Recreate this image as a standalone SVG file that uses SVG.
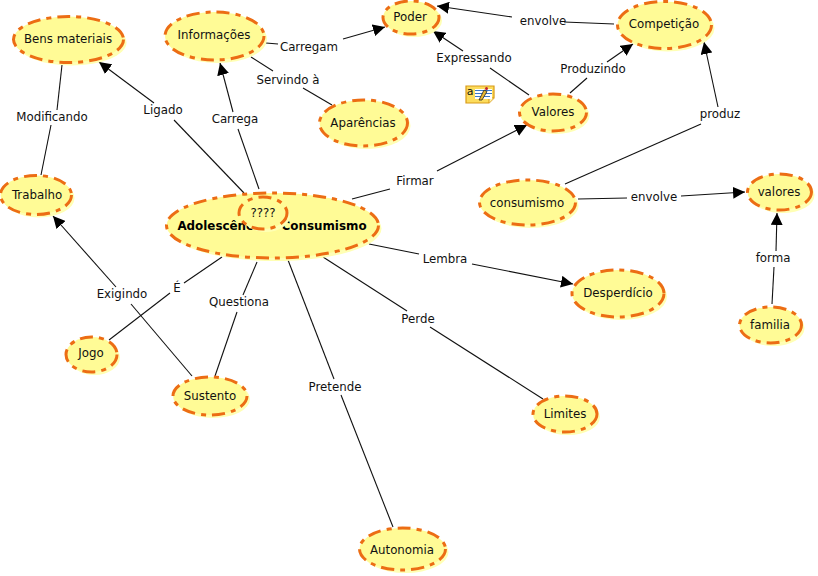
<svg xmlns="http://www.w3.org/2000/svg" width="818" height="576" viewBox="0 0 818 576">
<defs>
<marker id="arrow" viewBox="0 0 10 10" refX="10" refY="5" markerWidth="12" markerHeight="12" markerUnits="userSpaceOnUse" orient="auto"><path d="M0 0L10 5L0 10Z" fill="#000"/></marker>
</defs>
<style>
text{font-family:"DejaVu Sans","Liberation Sans",sans-serif;font-size:11.8px;fill:#111;text-anchor:middle}
.b{font-weight:bold;font-size:11.9px;fill:#000}
.s{fill:#ffffb4}
.n{fill:#fffb96;stroke:#ec6d14;stroke-width:3;stroke-dasharray:13 6 5 6}
#connectors line{stroke:#111;stroke-width:1.1}
#connectors line.a{marker-end:url(#arrow)}
</style>
<rect width="818" height="576" fill="#fff"/>
<g id="connectors">
<line x1="62" y1="65" x2="57" y2="110"/><line x1="51" y1="125" x2="41" y2="175"/>
<line class="a" x1="154" y1="103" x2="99" y2="62"/><line x1="174" y1="120" x2="244" y2="193"/>
<line class="a" x1="233" y1="112" x2="220" y2="63"/><line x1="238" y1="129" x2="259" y2="189"/>
<line x1="266" y1="43" x2="278" y2="44"/><line class="a" x1="343" y1="39" x2="385" y2="27"/>
<line x1="251" y1="57" x2="273" y2="71"/><line x1="303" y1="88" x2="332" y2="105"/>
<line class="a" x1="463" y1="51" x2="433" y2="31"/><line x1="490" y1="68" x2="529" y2="95"/>
<line class="a" x1="512" y1="17" x2="437" y2="6"/><line x1="564" y1="22" x2="614" y2="24"/>
<line x1="570" y1="93" x2="587" y2="78"/><line class="a" x1="607" y1="62" x2="633" y2="44"/>
<line class="a" x1="718" y1="107" x2="704" y2="42"/><line x1="701" y1="124" x2="565" y2="184"/>
<line x1="352" y1="199" x2="390" y2="189"/><line class="a" x1="437" y1="171" x2="527" y2="125"/>
<line x1="578" y1="199" x2="627" y2="198"/><line class="a" x1="681" y1="196" x2="745" y2="192"/>
<line x1="772" y1="304" x2="774" y2="267"/><line class="a" x1="776" y1="251" x2="777" y2="213"/>
<line x1="369" y1="244" x2="419" y2="254"/><line class="a" x1="472" y1="264" x2="573" y2="284"/>
<line x1="323" y1="257" x2="407" y2="311"/><line x1="430" y1="327" x2="543" y2="399"/>
<line x1="288" y1="260" x2="334" y2="379"/><line x1="341" y1="395" x2="393" y2="527"/>
<line x1="222" y1="257" x2="184" y2="283"/><line x1="170" y1="293" x2="109" y2="340"/>
<line x1="257" y1="262" x2="243" y2="295"/><line x1="237" y1="312" x2="215" y2="376"/>
<line class="a" x1="116" y1="287" x2="53" y2="216"/><line x1="131" y1="304" x2="192" y2="376"/>
<text x="52" y="121">Modificando</text>
<text x="163" y="114">Ligado</text>
<text x="235" y="123">Carrega</text>
<text x="309" y="51">Carregam</text>
<text x="288" y="84">Servindo à</text>
<text x="474" y="62">Expressando</text>
<text x="543" y="25">envolve</text>
<text x="593" y="73">Produzindo</text>
<text x="720" y="118">produz</text>
<text x="415" y="185">Firmar</text>
<text x="654" y="201">envolve</text>
<text x="773" y="262">forma</text>
<text x="445" y="263">Lembra</text>
<text x="418" y="323">Perde</text>
<text x="335" y="391">Pretende</text>
<text x="177" y="292">É</text>
<text x="239" y="306">Questiona</text>
<text x="122" y="298">Exigindo</text>
</g>
<g id="node-bens"><ellipse class="s" cx="71.5" cy="42.5" rx="55" ry="23"/><ellipse class="n" cx="68.5" cy="39.5" rx="55" ry="23"/><text x="68" y="43">Bens materiais</text></g>
<g id="node-informacoes"><ellipse class="s" cx="217.5" cy="39" rx="49.5" ry="24"/><ellipse class="n" cx="214.5" cy="36" rx="49.5" ry="24"/><text x="214" y="39">Informações</text></g>
<g id="node-poder"><ellipse class="s" cx="414" cy="20.5" rx="28" ry="16.5"/><ellipse class="n" cx="411" cy="17.5" rx="28" ry="16.5"/><text x="410" y="21">Poder</text></g>
<g id="node-competicao"><ellipse class="s" cx="667.5" cy="28" rx="47" ry="23.5"/><ellipse class="n" cx="664.5" cy="25" rx="47" ry="23.5"/><text x="664" y="28">Competição</text></g>
<g id="node-valores1"><ellipse class="s" cx="556" cy="115.5" rx="33.5" ry="18.5"/><ellipse class="n" cx="553" cy="112.5" rx="33.5" ry="18.5"/><text x="553" y="116">Valores</text></g>
<g id="node-aparencias"><ellipse class="s" cx="366.5" cy="126" rx="44" ry="23"/><ellipse class="n" cx="363.5" cy="123" rx="44" ry="23"/><text x="363" y="127">Aparências</text></g>
<g id="node-trabalho"><ellipse class="s" cx="39" cy="198" rx="35.5" ry="19.5"/><ellipse class="n" cx="36" cy="195" rx="35.5" ry="19.5"/><text x="37" y="199">Trabalho</text></g>
<g id="node-main"><ellipse class="s" cx="275.5" cy="228.5" rx="106" ry="32.5"/><ellipse class="n" cx="272.5" cy="225.5" rx="106" ry="32.5"/><text class="b" x="272" y="230">Adolescência e Consumismo</text></g>
<g id="node-interrogacao"><ellipse class="s" cx="266" cy="216" rx="24" ry="16"/><ellipse class="n" cx="263" cy="213" rx="24" ry="16"/><text x="263" y="217">????</text></g>
<g id="node-consumismo"><ellipse class="s" cx="530.5" cy="205.5" rx="48" ry="22.5"/><ellipse class="n" cx="527.5" cy="202.5" rx="48" ry="22.5"/><text x="527" y="207">consumismo</text></g>
<g id="node-valores2"><ellipse class="s" cx="782.5" cy="195" rx="32" ry="18"/><ellipse class="n" cx="779.5" cy="192" rx="32" ry="18"/><text x="779" y="196">valores</text></g>
<g id="node-familia"><ellipse class="s" cx="773.5" cy="328" rx="31" ry="18"/><ellipse class="n" cx="770.5" cy="325" rx="31" ry="18"/><text x="770" y="329">familia</text></g>
<g id="node-desperdicio"><ellipse class="s" cx="621" cy="296.5" rx="46" ry="23.5"/><ellipse class="n" cx="618" cy="293.5" rx="46" ry="23.5"/><text x="618" y="297">Desperdício</text></g>
<g id="node-limites"><ellipse class="s" cx="568" cy="417" rx="32" ry="18"/><ellipse class="n" cx="565" cy="414" rx="32" ry="18"/><text x="565" y="418">Limites</text></g>
<g id="node-autonomia"><ellipse class="s" cx="405.5" cy="552" rx="43" ry="21"/><ellipse class="n" cx="402.5" cy="549" rx="43" ry="21"/><text x="402" y="554">Autonomia</text></g>
<g id="node-sustento"><ellipse class="s" cx="213" cy="399" rx="37" ry="19"/><ellipse class="n" cx="210" cy="396" rx="37" ry="19"/><text x="210" y="400">Sustento</text></g>
<g id="node-jogo"><ellipse class="s" cx="94.5" cy="357.5" rx="25.500" ry="17.500"/><ellipse class="n" cx="91.5" cy="354.5" rx="25.500" ry="17.500"/><text x="91" y="357">Jogo</text></g>
<g id="icon">
<path d="M466 86H494V98L489 103H466Z" fill="#fcdc5c" stroke="#d89a18" stroke-width="1.2"/>
<path d="M489 103V98H494" fill="#fff3b0" stroke="#d89a18"/>
<rect x="475" y="89" width="17" height="10" fill="#fff"/>
<path d="M475 90.500H492M475 93.500H492M475 96.500H490" stroke="#3a78c8" stroke-width="1"/>
<path d="M479 100L484 90L487 91.500L482 100Z" fill="#e8b830" stroke="#222" stroke-width=".8"/>
<circle cx="486.500" cy="88.500" r="1.500" fill="#c02030"/>
<text x="470" y="95" style="font-size:11px">a</text>
</g>
</svg>
